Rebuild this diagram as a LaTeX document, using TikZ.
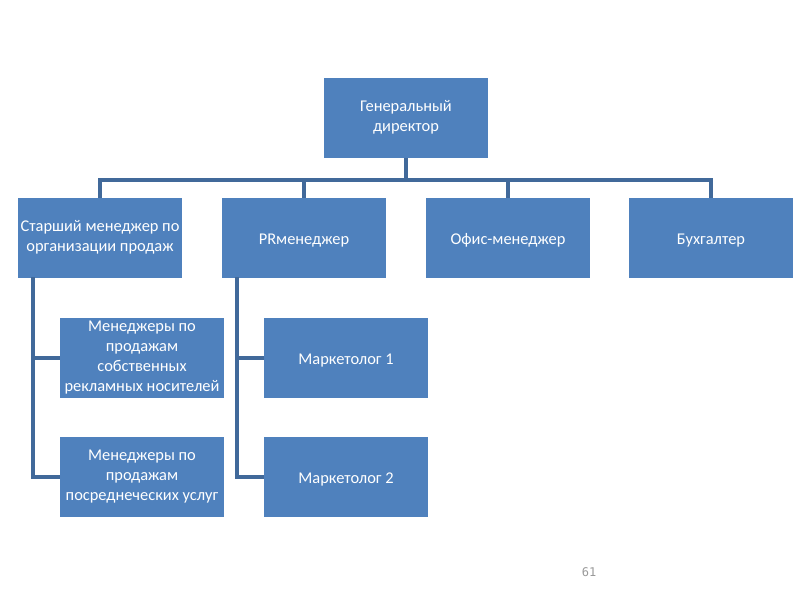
\documentclass[tikz,border=0pt]{standalone}
\usepackage{fontspec}
\setmainfont{Carlito}
\newfontfamily\numfont{DejaVu Sans Mono}
\definecolor{boxblue}{HTML}{4F81BD}
\definecolor{lineblue}{HTML}{41699A}
\newcommand{\topstrut}{\rule{0pt}{12pt}}
\newcommand{\botstrut}{\rule[-3pt]{0pt}{3pt}}
\begin{document}
\begin{tikzpicture}[x=0.75pt,y=-0.75pt,
  orgbox/.style={draw=none,fill=boxblue,minimum width=123pt,minimum height=60pt,
    align=center,text=white,font=\fontsize{12.3}{15}\selectfont,inner sep=0pt,
    execute at begin node=\topstrut,execute at end node=\botstrut},
  conn/.style={draw=lineblue,line width=3pt}]
\useasboundingbox (0,0) rectangle (800,600);
\node[orgbox] (gd) at (406,118) {Генеральный\\директор};
\node[orgbox] (sm) at (100,238) {Старший менеджер по\\организации продаж};
\node[orgbox] (pr) at (304,238) {PRменеджер};
\node[orgbox] (om) at (508,238) {Офис-менеджер};
\node[orgbox] (bh) at (711,238) {Бухгалтер};
\node[orgbox] (m1) at (142,358) {Менеджеры по\\продажам\\собственных\\рекламных носителей};
\node[orgbox] (m2) at (142,477) {Менеджеры по\\продажам\\посреднеческих услуг};
\node[orgbox] (k1) at (346,358) {Маркетолог 1};
\node[orgbox] (k2) at (346,477) {Маркетолог 2};
\coordinate (bus) at (406,180);
\coordinate (lv) at (33,277);
\coordinate (rv) at (237,277);
\draw[conn] (gd.south) -- (bus);
\draw[conn] (sm.north) -- ++(0,-18) -| (bh.north);
\draw[conn] (pr.north) -- ++(0,-18);
\draw[conn] (om.north) -- ++(0,-18);
\draw[conn,line join=miter] (lv) |- (m2.west);
\draw[conn] (lv |- m1.west) -- (m1.west);
\draw[conn,line join=miter] (rv) |- (k2.west);
\draw[conn] (rv |- k1.west) -- (k1.west);
\node[text=black!40,font=\numfont\fontsize{9}{10}\selectfont] (pg) at (589,572) {61};
\end{tikzpicture}
\end{document}
